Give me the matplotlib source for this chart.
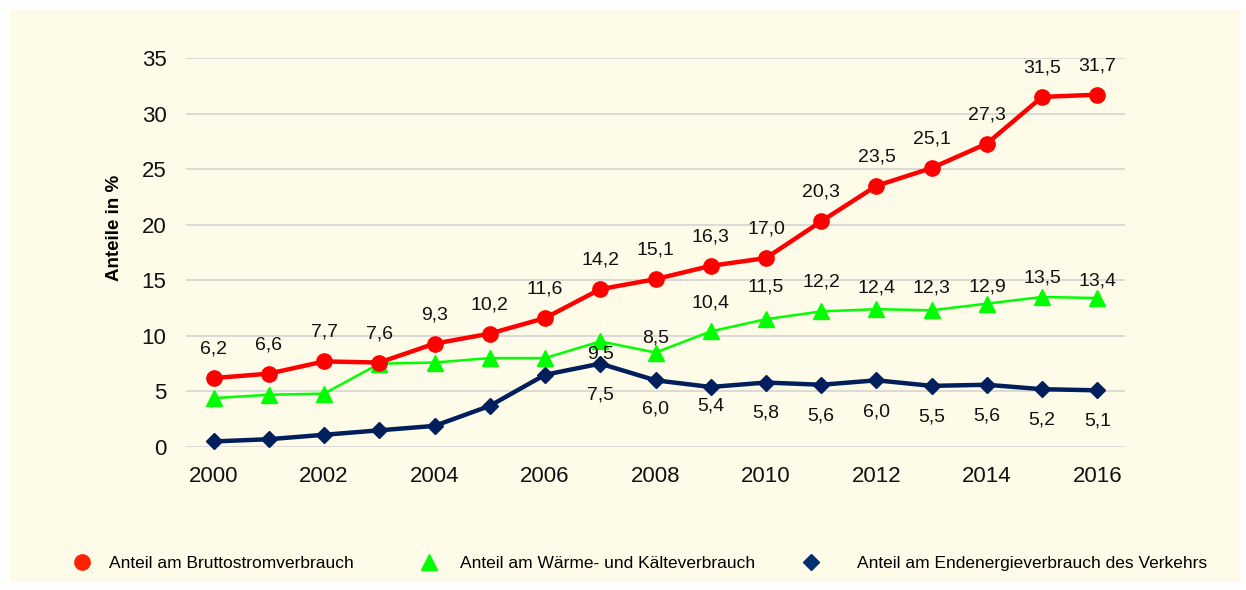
import numpy as np
import matplotlib.pyplot as plt
from matplotlib.lines import Line2D
from matplotlib.patches import Rectangle

# Daten
jahre = np.arange(2000, 2017)
strom = [6.2, 6.6, 7.7, 7.6, 9.3, 10.2, 11.6, 14.2, 15.1, 16.3, 17.0, 20.3, 23.5, 25.1, 27.3, 31.5, 31.7]
waerme = [4.4, 4.7, 4.8, 7.5, 7.6, 8.0, 8.0, 9.5, 8.5, 10.4, 11.5, 12.2, 12.4, 12.3, 12.9, 13.5, 13.4]
verkehr = [0.5, 0.7, 1.1, 1.5, 1.9, 3.7, 6.5, 7.5, 6.0, 5.4, 5.8, 5.6, 6.0, 5.5, 5.6, 5.2, 5.1]
namen = ["Anteil am Bruttostromverbrauch",
         "Anteil am Wärme- und Kälteverbrauch",
         "Anteil am Endenergieverbrauch des Verkehrs"]

# Abstand der Beschriftungen in Pixel (None = keine Beschriftung)
off_strom = [29] * 17
off_waerme = [None] * 7 + [-13, 15, 28, 32, 29, 21, 22, 17, 19, 17]
off_verkehr = [None] * 7 + [-31, -29, -19, -30, -31, -32, -31, -31, -31, -31]

rot = '#FF0000'
gruen = '#00FF00'
blau = '#001F5C'
creme = '#FEFBE9'

plt.rcParams['font.family'] = ['Liberation Sans', 'DejaVu Sans']

fig = plt.figure(figsize=(12.46, 5.90), dpi=100, facecolor='white')
fig.add_artist(Rectangle((10 / 1246, 1 - 582 / 590), 1230 / 1246, 572 / 590,
                         transform=fig.transFigure, facecolor=creme, edgecolor='none', zorder=0))

ax = fig.add_axes([186 / 1246, 1 - 447 / 590, 939 / 1246, 389 / 590])
ax.set_facecolor('none')

ax.plot(jahre, verkehr, color=blau, lw=3.2, marker='D', ms=8.5, clip_on=False, zorder=3)
ax.plot(jahre, waerme, color=gruen, lw=1.8, marker='^', ms=12, clip_on=False, zorder=4)
ax.plot(jahre, strom, color=rot, lw=3.2, marker='o', ms=11, clip_on=False, zorder=5)

def beschriften(werte, offs):
    for x, y, o in zip(jahre, werte, offs):
        if o is None:
            continue
        ax.annotate(f"{y:.1f}".replace('.', ','), (x, y), xytext=(0, o * 0.72),
                    textcoords='offset points', ha='center', va='center',
                    fontsize=14, color='#111111', zorder=6)

beschriften(strom, off_strom)
beschriften(waerme, off_waerme)
beschriften(verkehr, off_verkehr)

ax.set_xlim(1999.5, 2016.5)
ax.set_ylim(0, 35)
ax.set_xticks(np.arange(2000, 2017, 2))
ax.set_yticks(np.arange(0, 36, 5))
ax.tick_params(axis='both', length=0, labelsize=16, colors='#111111')
ax.tick_params(axis='x', pad=14)
ax.tick_params(axis='y', pad=14)
ax.grid(axis='y', color='#D4D4D4', lw=1.2)
ax.set_axisbelow(True)
for s in ax.spines.values():
    s.set_visible(False)

fig.text(115 / 1246, 1 - 228 / 590, "Anteile in %", rotation=90, ha='center', va='center',
         fontsize=13.5, fontweight='bold')

# Legende
farben = [('#FF2200', 'o', 11), (gruen, '^', 12), ('#003070', 'D', 8.5)]
xpos = [82, 429, 811]
pads = [0.8, 1.03, 1.89]
for name, (c, m, s), xp, pd in zip(namen, farben, xpos, pads):
    h = Line2D([], [], color=c, marker=m, ms=s, ls='none')
    fig.legend([h], [name], loc='center left', bbox_to_anchor=((xp - 13) / 1246, 1 - 563 / 590),
               frameon=False, fontsize=12.5, handlelength=1.5, handletextpad=pd,
               borderpad=0, borderaxespad=0)

fig.savefig('out.png', dpi=100, facecolor='white')
